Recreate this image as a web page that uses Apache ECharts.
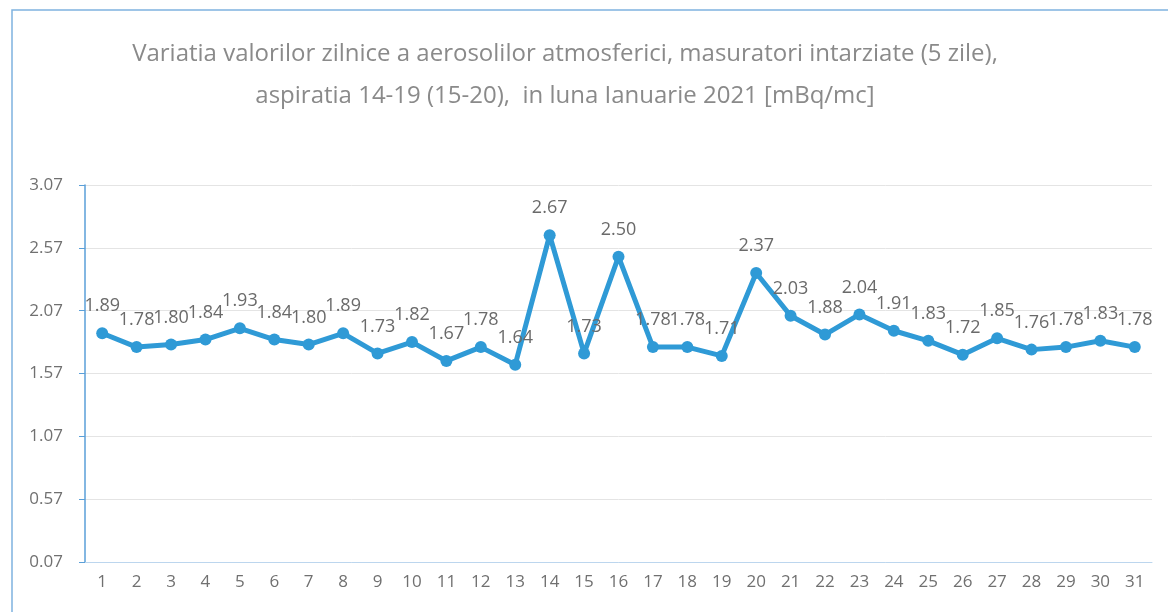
<!DOCTYPE html>
<html>
<head>
<meta charset="utf-8">
<script src="https://cdn.jsdelivr.net/npm/echarts@6/dist/echarts.min.js"></script>
<style>html,body{margin:0;padding:0;background:#fff}#c{width:1168px;height:612px}</style>
</head>
<body>
<div id="c"></div>
<script>
const days = ['1','2','3','4','5','6','7','8','9','10','11','12','13','14','15','16','17','18','19','20','21','22','23','24','25','26','27','28','29','30','31'];
const values = [1.89,1.78,1.80,1.84,1.93,1.84,1.80,1.89,1.73,1.82,1.67,1.78,1.64,2.67,1.73,2.50,1.78,1.78,1.71,2.37,2.03,1.88,2.04,1.91,1.83,1.72,1.85,1.76,1.78,1.83,1.78];
const titleLines = ['Variatia valorilor zilnice a aerosolilor atmosferici, masuratori intarziate (5 zile),', 'aspiratia 14-19 (15-20),  in luna Ianuarie 2021 [mBq/mc]'];
const yMin = 0.07, yMax = 3.07, yStep = 0.5;
const FONT = 'Open Sans, sans-serif';

const chart = echarts.init(document.getElementById('c'));
chart.setOption({
  animation: false,
  backgroundColor: '#fff',
  graphic: [{
    type: 'rect', shape: {x: 12, y: 10, width: 1170, height: 620},
    style: {fill: 'none', stroke: '#7fb3e0', lineWidth: 1.5}
  }],
  title: {
    text: titleLines.join('\n'),
    left: 560, top: 28, textAlign: 'center',
    textStyle: {fontFamily: FONT, fontSize: 24, fontWeight: 'normal', color: '#8a8a8a', lineHeight: 42}
  },
  grid: {left: 85, right: 16, top: 185, bottom: 50, containLabel: false},
  xAxis: {
    type: 'category', data: days, boundaryGap: true,
    axisLine: {lineStyle: {color: '#bcd6ee'}},
    axisTick: {show: false},
    axisLabel: {color: '#707070', fontSize: 17, margin: 12, fontFamily: FONT}
  },
  yAxis: {
    type: 'value', min: yMin, max: yMax, interval: yStep,
    axisLine: {show: true, lineStyle: {color: '#5a9fd8', width: 1.5}},
    axisTick: {show: true, length: 6, lineStyle: {color: '#5a9fd8'}},
    splitLine: {lineStyle: {color: '#e4e4e4'}},
    axisLabel: {color: '#707070', fontSize: 17, margin: 22, formatter: v => v.toFixed(2), fontFamily: FONT}
  },
  series: [{
    type: 'line', data: values,
    symbol: 'circle', symbolSize: 12,
    lineStyle: {color: '#2f9ad6', width: 5},
    itemStyle: {color: '#2f9ad6'},
    label: {show: true, position: 'top', distance: 12, color: '#6a6a6a', fontSize: 18, formatter: p => p.value.toFixed(2), fontFamily: FONT}
  }]
});
</script>
</body>
</html>
